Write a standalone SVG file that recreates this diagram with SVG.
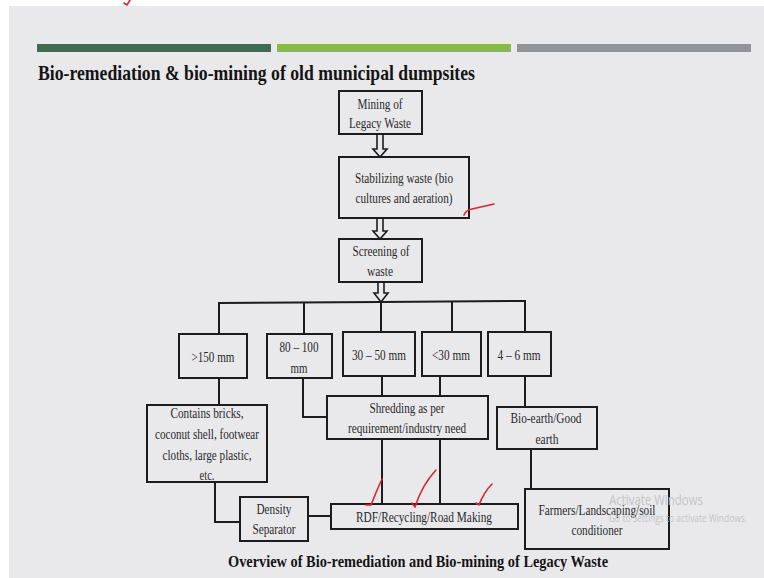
<svg xmlns="http://www.w3.org/2000/svg" width="764" height="578" viewBox="0 0 764 578">
<style>
.box{fill:none;stroke:#1c1c1c;stroke-width:2}
.ln{fill:none;stroke:#1c1c1c;stroke-width:2}
.arr{fill:#e9e8eb;stroke:#1c1c1c;stroke-width:1.6;stroke-linejoin:miter}
.t{font-family:"Liberation Serif","Times New Roman",serif;font-size:14px;fill:#2a2a2a;text-anchor:middle}
.h{font-family:"Liberation Serif","Times New Roman",serif;font-weight:bold;fill:#141414}
.red{fill:none;stroke:#d8262e;stroke-width:1.6;stroke-linecap:round;stroke-linejoin:round}
.wm{font-family:"Open Sans","Liberation Sans",sans-serif;fill:#c4c4c8}
</style>
<rect x="0" y="0" width="764" height="578" fill="#ffffff"/>
<rect x="9" y="6" width="755" height="572" fill="#e9e8eb"/>
<path class="red" d="M124,3 L127,5 L130,0"/>
<rect x="37" y="44" width="234" height="8" fill="#3f6a54"/>
<rect x="277" y="44" width="234" height="8" fill="#86b84a"/>
<rect x="517" y="44" width="234" height="8" fill="#929396"/>
<text class="h" x="38" y="80" font-size="21" textLength="437" lengthAdjust="spacingAndGlyphs">Bio-remediation &amp; bio-mining of old municipal dumpsites</text>

<g id="connectors">
<polygon class="arr" points="377,134 377,149 373,149 380,157 387,149 383,149 383,134"/>
<polygon class="arr" points="377,218 377,231 373,231 380,239 387,231 383,231 383,218"/>
<polygon class="arr" points="378,282 378,293 374,293 381,302 388,293 384,293 384,282"/>
<path class="ln" d="M219,334 V303 L381,302 L525,301 V332"/>
<path class="ln" d="M304,303 V334"/>
<path class="ln" d="M381,302 V332"/>
<path class="ln" d="M452,301 V332"/>
<path class="ln" d="M219,378 V405"/>
<path class="ln" d="M303,378 V417 H327"/>
<path class="ln" d="M382,376 V396"/>
<path class="ln" d="M440,376 V396"/>
<path class="ln" d="M382,439 V504"/>
<path class="ln" d="M440,439 V504"/>
<path class="ln" d="M525,376 V407"/>
<path class="ln" d="M531,449 V489"/>
<path class="ln" d="M215,482 V522 H240"/>
<path class="ln" d="M308,516 H331"/>
</g>

<g id="n-mining"><rect class="box" x="339" y="91" width="83" height="43"/>
<text class="t" x="380" y="109" textLength="45" lengthAdjust="spacingAndGlyphs">Mining of</text>
<text class="t" x="380" y="128" textLength="62" lengthAdjust="spacingAndGlyphs">Legacy Waste</text></g>

<g id="n-stabilizing"><rect class="box" x="339" y="157" width="130" height="61"/>
<text class="t" x="404" y="183" textLength="98" lengthAdjust="spacingAndGlyphs">Stabilizing waste (bio</text>
<text class="t" x="404" y="203" textLength="97" lengthAdjust="spacingAndGlyphs">cultures and aeration)</text></g>

<g id="n-screening"><rect class="box" x="339" y="239" width="83" height="43"/>
<text class="t" x="381" y="256" textLength="57" lengthAdjust="spacingAndGlyphs">Screening of</text>
<text class="t" x="380" y="276" textLength="26" lengthAdjust="spacingAndGlyphs">waste</text></g>

<g id="n-150"><rect class="box" x="179" y="334" width="68" height="44"/>
<text class="t" x="213" y="362" textLength="43" lengthAdjust="spacingAndGlyphs">&gt;150 mm</text></g>

<g id="n-80"><rect class="box" x="267" y="334" width="65" height="44"/>
<text class="t" x="299" y="352" textLength="39" lengthAdjust="spacingAndGlyphs">80 – 100</text>
<text class="t" x="299" y="373" textLength="17" lengthAdjust="spacingAndGlyphs">mm</text></g>

<g id="n-30-50"><rect class="box" x="343" y="332" width="72" height="44"/>
<text class="t" x="379" y="360" textLength="54" lengthAdjust="spacingAndGlyphs">30 – 50 mm</text></g>

<g id="n-30"><rect class="box" x="422" y="332" width="59" height="44"/>
<text class="t" x="451" y="360" textLength="38" lengthAdjust="spacingAndGlyphs">&lt;30 mm</text></g>

<g id="n-4-6"><rect class="box" x="488" y="332" width="63" height="44"/>
<text class="t" x="519" y="360" textLength="43" lengthAdjust="spacingAndGlyphs">4 – 6 mm</text></g>

<g id="n-contains"><rect class="box" x="147" y="405" width="120" height="77"/>
<text class="t" x="207" y="418" textLength="73" lengthAdjust="spacingAndGlyphs">Contains bricks,</text>
<text class="t" x="207" y="439" textLength="104" lengthAdjust="spacingAndGlyphs">coconut shell, footwear</text>
<text class="t" x="207" y="460" textLength="89" lengthAdjust="spacingAndGlyphs">cloths, large plastic,</text>
<text class="t" x="207" y="480" textLength="15" lengthAdjust="spacingAndGlyphs">etc.</text></g>

<g id="n-shredding"><rect class="box" x="327" y="396" width="161" height="43"/>
<text class="t" x="407" y="413" textLength="75" lengthAdjust="spacingAndGlyphs">Shredding as per</text>
<text class="t" x="407" y="433" textLength="118" lengthAdjust="spacingAndGlyphs">requirement/industry need</text></g>

<g id="n-bioearth"><rect class="box" x="497" y="407" width="100" height="42"/>
<text class="t" x="546" y="423" textLength="71" lengthAdjust="spacingAndGlyphs">Bio-earth/Good</text>
<text class="t" x="547" y="444" textLength="23" lengthAdjust="spacingAndGlyphs">earth</text></g>

<g id="n-density"><rect class="box" x="240" y="497" width="68" height="44"/>
<text class="t" x="274" y="514" textLength="35" lengthAdjust="spacingAndGlyphs">Density</text>
<text class="t" x="274" y="534" textLength="43" lengthAdjust="spacingAndGlyphs">Separator</text></g>

<g id="n-rdf"><rect class="box" x="331" y="504" width="187" height="25"/>
<text class="t" x="424" y="522" textLength="136" lengthAdjust="spacingAndGlyphs">RDF/Recycling/Road Making</text></g>

<g id="n-farmers"><rect class="box" x="525" y="489" width="144" height="60"/>
<text class="t" x="597" y="515" textLength="117" lengthAdjust="spacingAndGlyphs">Farmers/Landscaping/soil</text>
<text class="t" x="597" y="535" textLength="51" lengthAdjust="spacingAndGlyphs">conditioner</text></g>

<text class="h" x="228" y="567" font-size="16" textLength="380" lengthAdjust="spacingAndGlyphs">Overview of Bio-remediation and Bio-mining of Legacy Waste</text>

<path class="red" d="M464,215 Q466,210 472,209 L494,204"/>
<path class="red" d="M366,505 L371,505 Q376,492 382,479"/>
<path class="red" d="M412,503 L415,507 Q422,485 436,470"/>
<path class="red" d="M476,503 L479,505 Q484,492 492,484"/>

<text class="wm" x="609" y="505" font-size="14" textLength="94" lengthAdjust="spacingAndGlyphs">Activate Windows</text>
<text class="wm" x="609" y="522" font-size="10" textLength="138" lengthAdjust="spacingAndGlyphs">Go to Settings to activate Windows.</text>
</svg>
